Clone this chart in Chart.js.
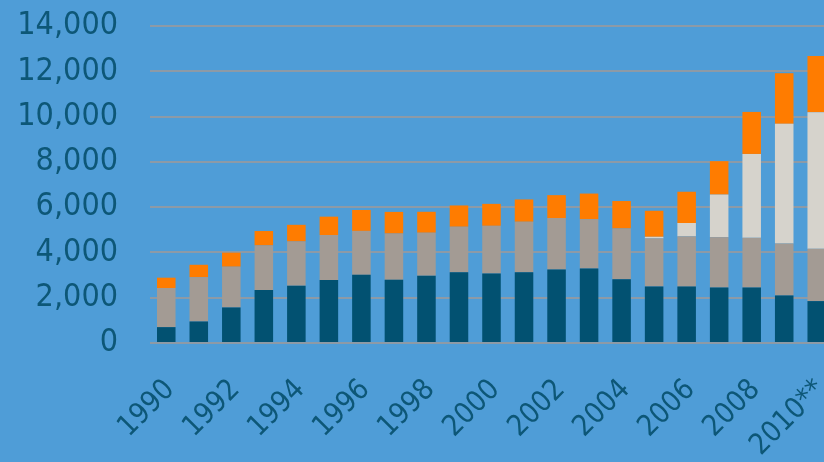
<!DOCTYPE html>
<html>
<head>
<meta charset="utf-8">
<script src="https://cdn.jsdelivr.net/npm/chart.js"></script>
<style>
html,body{margin:0;padding:0;overflow:hidden;background:#4f9dd7;}
#wrap{width:833px;height:462px;}
</style>
</head>
<body>
<div id="wrap"><canvas id="grafico"></canvas></div>
<script>
const anos=['1990','1991','1992','1993','1994','1995','1996','1997','1998','1999','2000','2001','2002','2003','2004','2005','2006','2007','2008','2009','2010**'];
const serieEscura=[700,950,1570,2340,2530,2780,3010,2790,2970,3120,3070,3120,3250,3290,2810,2500,2490,2450,2450,2100,1850];
const serieCinza=[1730,1960,1800,1970,1955,1990,1940,2045,1900,2015,2105,2235,2265,2180,2250,2120,2220,2225,2195,2295,2310];
const serieClara=[0,0,0,0,0,0,0,0,0,0,0,0,0,0,0,70,590,1880,3705,5285,6035];
const serieLaranja=[455,545,620,635,735,810,925,955,925,940,970,985,1015,1130,1210,1150,1380,1475,1855,2235,2485];
const ticksY=[0,2000,4000,6000,8000,10000,12000,14000];

const corTexto='#0d5777';
const ctx_grafico=document.getElementById('grafico');
const grafico=new Chart(ctx_grafico,{
type:'bar',
data:{
labels:anos,
datasets:[
{label:'Serie 1',data:serieEscura,backgroundColor:'#025171'},
{label:'Serie 2',data:serieCinza,backgroundColor:'#a39b94'},
{label:'Serie 3',data:serieClara,backgroundColor:'#d6d3cc'},
{label:'Serie 4',data:serieLaranja,backgroundColor:'#ff7c00'}
]
},
options:{
responsive:true,
maintainAspectRatio:false,
animation:false,
layout:{padding:{top:26,right:0,left:0,bottom:0}},
plugins:{legend:{display:false},tooltip:{enabled:false}},
datasets:{bar:{categoryPercentage:1,barPercentage:0.57,borderWidth:0}},
scales:{
x:{
stacked:true,
grid:{display:false},
border:{display:false},
ticks:{
autoSkip:false,
minRotation:45,
maxRotation:45,
padding:22,
labelOffset:4,
color:corTexto,
font:{family:'DejaVu Sans Condensed',size:29},
callback:function(v,i){return i%2===0?this.getLabelForValue(v):''}
},
afterFit:function(s){s.height=119;s.paddingLeft=0;s.paddingRight=0}
},
y:{
stacked:true,
min:0,
max:14000,
afterBuildTicks:function(s){s.ticks=ticksY.map(v=>({value:v}))},
grid:{color:'#8d9aa6',lineWidth:2,drawTicks:false},
border:{display:false},
ticks:{
padding:32,
color:corTexto,
font:{family:'DejaVu Sans Condensed',size:32}
},
afterFit:function(s){s.width=150;s.paddingTop=0;s.paddingBottom=0}
}
}
}
});
</script>
</body>
</html>
